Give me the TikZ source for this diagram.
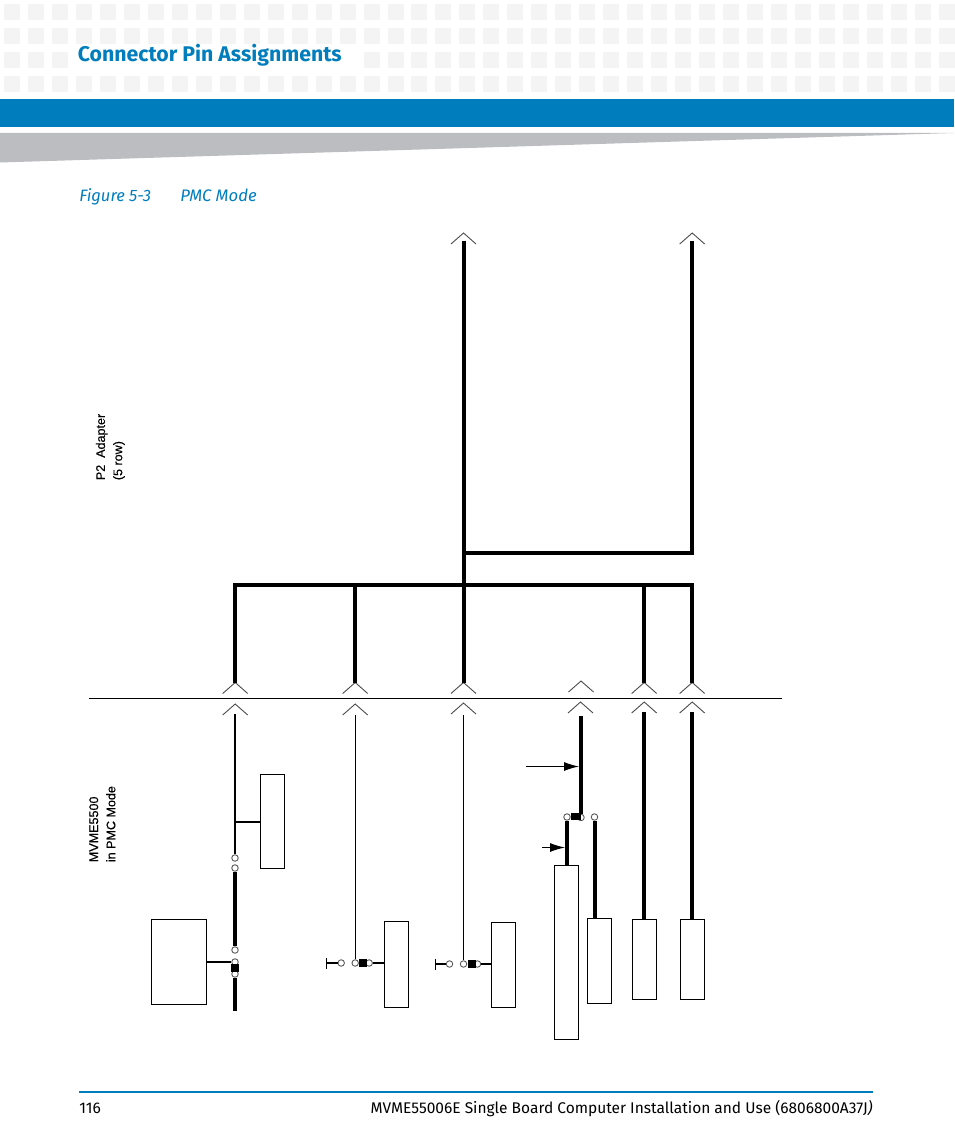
\documentclass[tikz,border=0pt]{standalone}
\usepackage{fontspec}
\setmainfont{Fira Sans}
\newfontfamily\labelfont[FakeBold=0.4]{Liberation Sans}
\usetikzlibrary{arrows.meta}
\definecolor{bandBlue}{HTML}{007DBD}
\definecolor{bandGray}{HTML}{BCBDC0}
\definecolor{gridGray}{HTML}{F4F4F4}
\newcommand{\px}{0.02cm}
\tikzset{
  devBox/.style={draw, line width=1*\px, fill=white, inner sep=0pt},
  pad/.style={draw=black!65, line width=0.9*\px, fill=white, circle, inner sep=0pt, minimum size=6.5*\px},
  latch/.style={fill=black, inner sep=0pt, minimum width=8*\px, minimum height=8*\px},
  chevron/.style={draw=black!70, line width=0.9*\px},
  bus/.style={line width=4*\px},
  wideLine/.style={line width=3.4*\px},
  midLine/.style={line width=2.2*\px},
  thinLine/.style={line width=1.1*\px},
  pointer/.style={line width=1.1*\px, -{Latex[length=15*\px, width=9*\px]}},
  sideLabel/.style={font=\labelfont\fontsize{7.15}{9.8}\selectfont, rotate=90, align=left, anchor=north west, inner sep=0pt}
}
\begin{document}
\begin{tikzpicture}[x=\px, y=-\px]
  \newcommand{\legX}{12.5}
  \newcommand{\legY}{11}
  \useasboundingbox (0,0) rectangle (954,1145);

  % Draws the page header
  \foreach \col in {0,...,39}
    \foreach \row in {0,...,3}
      \fill[gridGray] (4+23.97*\col, 4+24*\row) rectangle ++(16,16);
  \fill[white] (70,48) rectangle (358,72);
  \fill[bandBlue] (0,99) rectangle (954,127);
  \fill[bandGray] (0,133) -- (954,133) -- (0,162.5) -- cycle;
  \node[anchor=base west, inner sep=0pt, text=bandBlue, font=\bfseries\fontsize{12.1}{14}\selectfont]
    (pageTitle) at (77.5,61.5) {Connector Pin Assignments};
  \node[anchor=base west, inner sep=0pt, text=bandBlue, font=\itshape\fontsize{9.4}{12}\selectfont]
    (figureNumber) at (79,202) {Figure 5-3};
  \node[anchor=base west, inner sep=0pt, text=bandBlue, font=\itshape\fontsize{9.5}{12}\selectfont]
    (figureName) at (180,202) {PMC Mode};

  % Draws the page footer
  \coordinate (footLeft) at (79,1092);
  \coordinate (footRight) at (873,1092);
  \draw[bandBlue, line width=1.5*\px] (footLeft) -- (footRight);
  \node[anchor=base west, inner sep=0pt, font=\fontsize{8.8}{11}\selectfont] (pageNumber) at (79,1113) {116};
  \node[anchor=base east, inner sep=0pt, font=\fontsize{8.82}{11}\selectfont] (pageFooter) at (873,1113)
    {MVME55006E Single Board Computer Installation and Use (6806800A37J\textit{)}};

  % Draws the board edge and the side labels
  \coordinate (edgeLeft) at (89,698.5);
  \coordinate (edgeRight) at (782,698.5);
  \draw[thinLine] (edgeLeft) -- (edgeRight);
  \node[sideLabel] (adapterLabel) at (95.5,480.5) {P2\ \ Adapter\\(5 row)};
  \node[sideLabel] (boardLabel) at (89,862.5) {MVME5500\\in PMC Mode};

  % Draws all the chevrons, named by their apex
  \foreach \name/\x/\y in {topA/463.5/233, topB/692.2/233,
                           upA/235.2/682.5, upB/355.2/682.5, upC/463.5/682.5,
                           upD/581/681, upE/644.2/682.5, upF/692.2/682.5,
                           lowA/235.2/704, lowB/355.2/704, lowC/463.5/703,
                           lowD/580.5/702, lowE/644.2/702, lowF/692.2/702} {
    \coordinate (\name) at (\x,\y);
    \draw[chevron] (\x-\legX,\y+\legY) -- (\x,\y) -- (\x+\legX,\y+\legY);
  }

  % Draws the bus of the adapter
  \coordinate (busA) at (235.2,585);
  \coordinate (busB) at (355.2,585);
  \coordinate (busC) at (463.5,585);
  \coordinate (busE) at (644.2,585);
  \coordinate (busF) at (692.2,585);
  \coordinate (teeC) at (463.5,552.5);
  \coordinate (teeF) at (692.2,552.5);
  \coordinate (startC) at (463.5,241);
  \coordinate (startF) at (692.2,241);
  \draw[bus] ([xshift=-2*\px]busA) -- ([xshift=2*\px]busF);
  \draw[bus] (startC) -- (upC);
  \draw[bus] (startF) -- ([yshift=-2*\px]teeF);
  \draw[bus] (teeC) -- (teeF);
  \foreach \from/\to in {busA/upA, busB/upB, busE/upE}
    \draw[bus] (\from) -- (\to);
  \draw[bus] (busF) -- (upF);

  % Draws the devices of the board
  \node[devBox, minimum width=55*\px, minimum height=85*\px] (bridgeBox) at (179,962) {};
  \node[devBox, minimum width=24*\px, minimum height=94*\px] (sideBox) at (272.5,821.5) {};
  \node[devBox, minimum width=24*\px, minimum height=86*\px] (devB) at (396.5,964.5) {};
  \node[devBox, minimum width=24*\px, minimum height=85*\px] (devC) at (503.5,965) {};
  \node[devBox, minimum width=24*\px, minimum height=174*\px] (devD) at (566.5,952.5) {};
  \node[devBox, minimum width=24*\px, minimum height=85*\px] (devG) at (599.5,961) {};
  \node[devBox, minimum width=24*\px, minimum height=80*\px] (devE) at (644.2,959.5) {};
  \node[devBox, minimum width=24*\px, minimum height=80*\px] (devF) at (692.2,959.5) {};

  % First column
  \node[pad] (padA) at (235,858) {};
  \node[pad] (padB) at (235,868) {};
  \node[pad] (padC) at (235,950) {};
  \node[pad] (padD) at (235,962) {};
  \node[pad] (padE) at (235,974) {};
  \node[latch] (latchA) at (235,968) {};
  \coordinate (startA) at (235,714);
  \coordinate (teeA) at (235,822);
  \coordinate (endA) at (235,1011);
  \draw[midLine] (startA) -- (padA);
  \draw[wideLine] (padB) -- (padC);
  \draw[wideLine] (padE) -- (endA);
  \draw[midLine] (teeA) -- (teeA -| sideBox.west);
  \draw[midLine] (bridgeBox.east |- padD) -- (padD);

  % Second and third column
  \foreach \n/\x/\y/\xStop/\devName in {B/355.2/963/326.5/devB, C/463.5/964/435.5/devC} {
    \node[pad] (padLeft\n) at (\x-14,\y) {};
    \node[pad] (padMid\n) at (\x,\y) {};
    \node[pad] (padRight\n) at (\x+14,\y) {};
    \node[latch] (latch\n) at (\x+8,\y) {};
    \coordinate (stop\n) at (\xStop,\y);
    \coordinate (start\n) at (\x,715);
    \draw[thinLine] (start\n) -- (padMid\n);
    \draw[thinLine] (stop\n) -- (padLeft\n);
    \draw[thinLine] ([yshift=-5.5*\px]stop\n) -- ([yshift=5.5*\px]stop\n);
    \draw[thinLine] (padRight\n) -- (\devName.west |- padRight\n);
  }

  % Fourth column with the two pointers
  \node[pad] (padLeftD) at (567,817) {};
  \node[pad] (padMidD) at (581,817.5) {};
  \node[pad] (padRightD) at (594.5,817) {};
  \node[latch, minimum width=10*\px, minimum height=7*\px] (latchD) at (576,816.5) {};
  \coordinate (startD) at (581,716);
  \coordinate (pointA) at (526,766.5);
  \coordinate (pointB) at (542,847.5);
  \draw[bus] (startD) -- (padMidD);
  \draw[bus] (padLeftD) -- (padLeftD |- devD.north);
  \draw[bus] (padRightD) -- (padRightD |- devG.north);
  \draw[pointer] (pointA) -- ([xshift=-2*\px]pointA -| startD);
  \draw[pointer] (pointB) -- ([xshift=-2*\px]pointB -| padLeftD);

  % Last two columns
  \foreach \from/\to in {E/devE, F/devF} {
    \coordinate (start\from) at (low\from |- 0,712);
    \draw[bus] (start\from) -- (\to.north);
  }
\end{tikzpicture}
\end{document}
